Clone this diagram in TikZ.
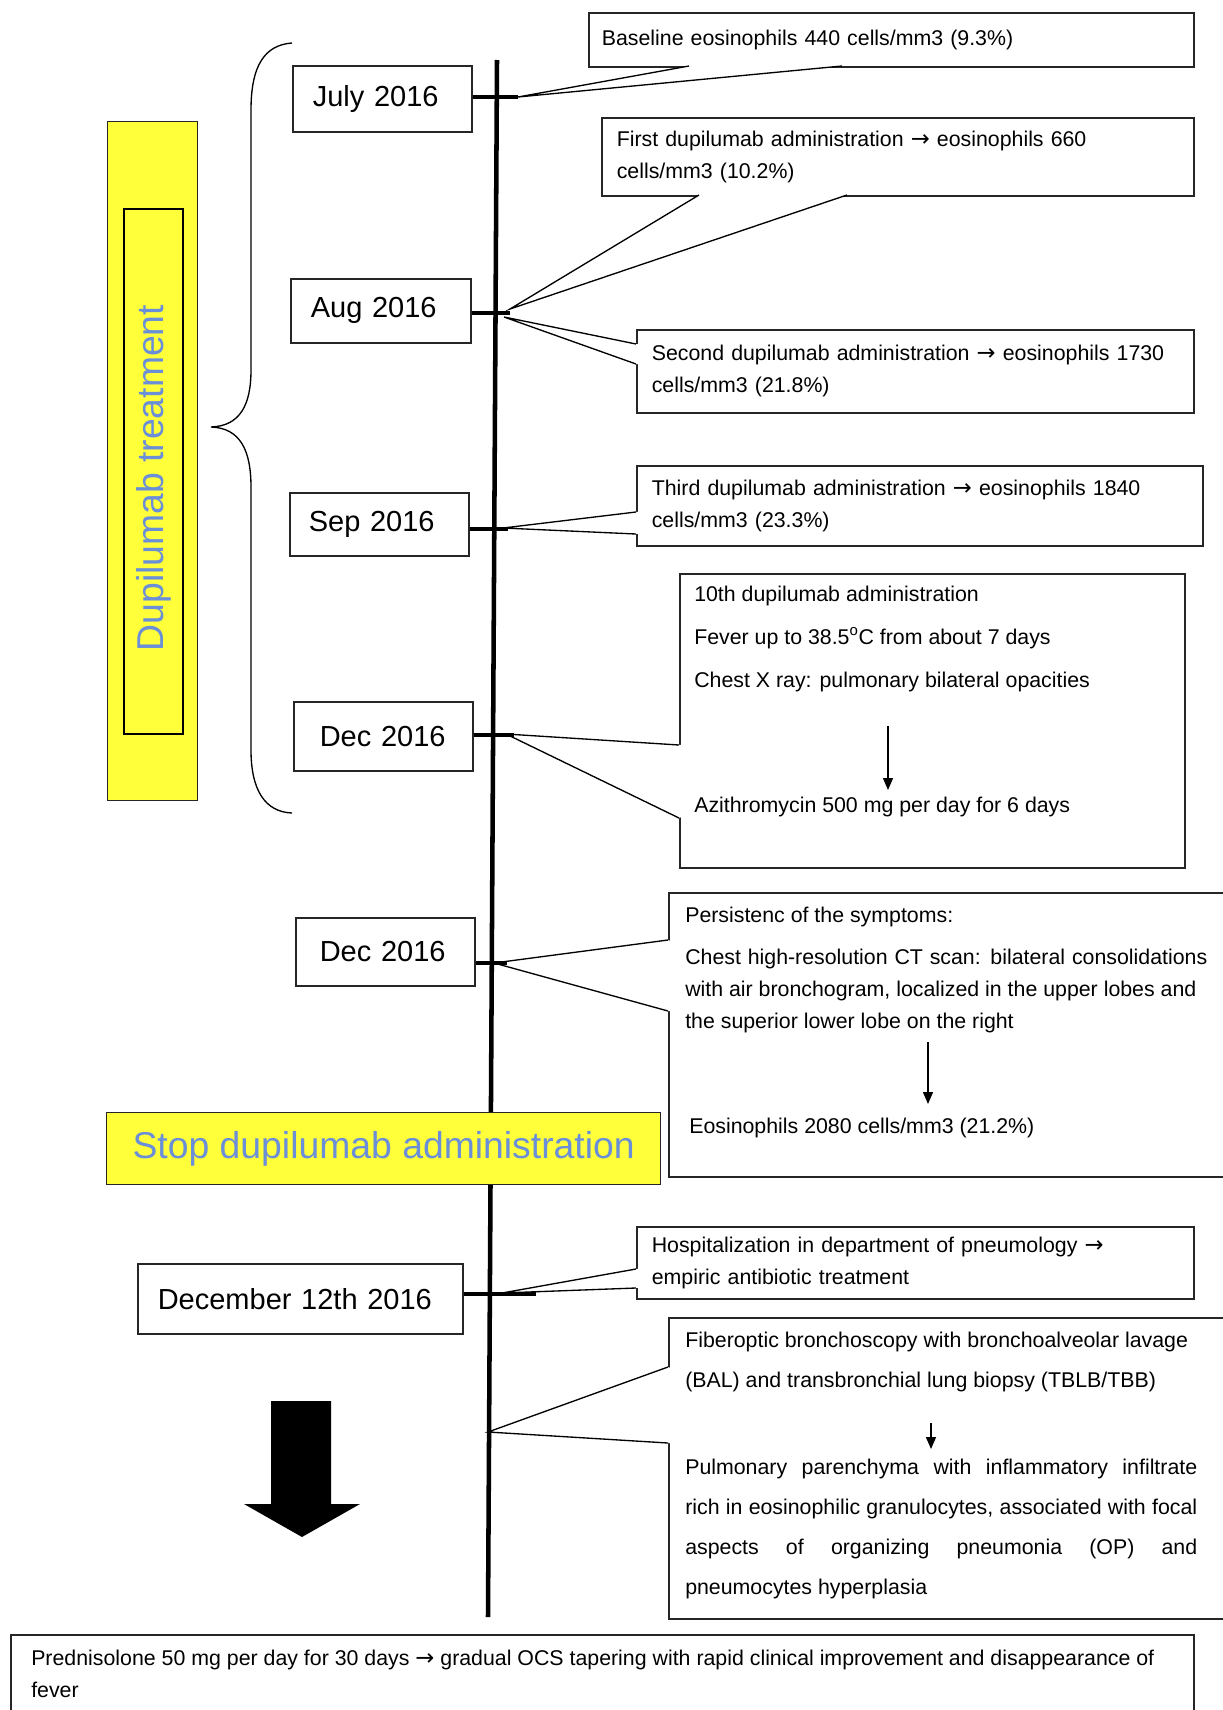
\documentclass[tikz,border=0pt]{standalone}
\usepackage{fontspec}
\setmainfont{Liberation Sans}
\newfontfamily\arrfont{DejaVu Sans}
\usetikzlibrary{arrows.meta,positioning,calc}
\definecolor{dyellow}{HTML}{FFFF3A}
\definecolor{dblue}{HTML}{6A8ED8}
\definecolor{dline}{HTML}{262626}
\newcommand\pxu{0.75pt}
\newcommand\toarr{{\arrfont\fontsize{17}{24}\selectfont →}}

\begin{document}
\begin{tikzpicture}[
  x=0.75pt, y=-0.75pt,
  datebox/.style={draw=dline, line width=1.2pt, anchor=north west, align=left,
                  inner ysep=0pt, font=\fontsize{21.75}{26}\selectfont},
  callbox/.style={draw=dline, line width=1.2pt, anchor=north west, align=left,
                  inner ysep=0pt, font=\fontsize{16}{24}\selectfont},
  boxsize/.style n args={3}{minimum width=#1*\pxu, minimum height=#2*\pxu,
                  inner xsep=#3*\pxu, text width=(#1-2*#3)*\pxu},
  calltxt/.style={inner sep=0pt, anchor=west, align=left,
                  font=\fontsize{16}{24}\selectfont},
  yellowbox/.style={draw=dline, line width=1pt, fill=dyellow, text=dblue,
                    font=\fontsize{28}{32}\selectfont, inner sep=0pt},
  timeline/.style={line width=3.4pt},
  tick/.style={line width=3.4pt},
  ptr/.style={line width=1pt},
  arr/.style={-{Triangle[length=9pt,width=7.5pt]}, line width=1.1pt},
]
\useasboundingbox (0,0) rectangle (1222,1710);

%% Treatment period bar and brace
\node[yellowbox, minimum width=90*\pxu, minimum height=679*\pxu, anchor=north west] (bar) at (107,121) {};
\node[draw=black, line width=1pt, rotate=90, minimum width=525*\pxu, minimum height=59*\pxu,
      inner sep=0pt, text=dblue, font=\fontsize{28}{32}\selectfont] (treat) at (153.5,471.5) {Dupilumab treatment\hspace*{10pt}};
\draw[ptr] (292,43) .. controls (265,45) and (251,65) .. (251,110) -- (251,370)
  .. controls (251,405) and (240,426) .. (211,427) .. controls (240,428) and (251,450) .. (251,487)
  -- (251,750) .. controls (251,790) and (265,812) .. (292,813);

%% Dates
\node[datebox, boxsize={179}{66}{20}]  (jul)   at (292,65)   {July 2016};
\node[datebox, boxsize={180}{64}{20}]  (aug)   at (290,278)  {Aug 2016};
\node[datebox, boxsize={179}{63}{19}]  (sep)   at (289,492)  {Sep 2016};
\node[datebox, boxsize={179}{69}{26}]  (dec)   at (293,701)  {Dec 2016};
\node[datebox, boxsize={179}{68}{24}]  (decb)  at (295,917)  {Dec 2016};
\node[datebox, boxsize={325}{70}{20}]  (dec12) at (137,1263) {December 12th 2016};

%% Events
\node[callbox, boxsize={605}{54}{13}] (base) at (588,12) {Baseline eosinophils 440 cells/mm3 (9.3\%)};
\node[callbox, boxsize={592}{78}{15}] (first) at (601,117) {First dupilumab administration \toarr{} eosinophils 660\\cells/mm3 (10.2\%)};
\node[callbox, boxsize={557}{83}{15}] (second) at (636,329) {Second dupilumab administration \toarr{} eosinophils 1730\\cells/mm3 (21.8\%)};
\node[callbox, boxsize={566}{80}{15}] (third) at (636,465) {Third dupilumab administration \toarr{} eosinophils 1840\\cells/mm3 (23.3\%)};

\node[callbox, boxsize={505}{294}{15}] (tenth) at (679,573) {};
\node[calltxt, font=\fontsize{16}{32.25}\selectfont] (fever) at (694,638.5)
  {10th dupilumab administration\\Fever up to 38.5\textsuperscript{o}C from about 7 days\\Chest X ray: pulmonary bilateral opacities};
\node[calltxt] (azi) at (694,807) {Azithromycin 500 mg per day for 6 days};
\coordinate (fa) at (888,726);
\coordinate (fb) at (888,790);
\draw[arr] (fa) -- (fb);

\node[callbox, boxsize={558}{284}{17}] (persist) at (668,892) {};
\node[calltxt] (persttl) at (685,917) {Persistenc of the symptoms:};
\node[calltxt] (ctscan) at (685,991)
  {\makebox[391.5pt][s]{Chest high-resolution CT scan: bilateral consolidations}\\with air bronchogram, localized in the upper lobes and\\the superior lower lobe on the right};
\node[calltxt] (eos) at (689,1128) {Eosinophils 2080 cells/mm3 (21.2\%)};
\coordinate (ca) at (928,1042);
\coordinate (cb) at (928,1104);
\draw[arr] (ca) -- (cb);

\node[callbox, boxsize={557}{72}{15}] (hospit) at (636,1226) {Hospitalization in department of pneumology \toarr\\empiric antibiotic treatment};

\node[callbox, boxsize={558}{301}{17}] (bronch) at (668,1317) {};
\node[calltxt, font=\fontsize{16}{30}\selectfont] (bal) at (685,1362)
  {Fiberoptic bronchoscopy with bronchoalveolar lavage\\(BAL) and transbronchial lung biopsy (TBLB/TBB)};
\node[calltxt, font=\fontsize{16}{30}\selectfont] (histo) at (685,1528.5)
  {\makebox[384pt][s]{Pulmonary parenchyma with inflammatory infiltrate}\\\makebox[384pt][s]{rich in eosinophilic granulocytes, associated with focal}\\\makebox[384pt][s]{aspects of organizing pneumonia (OP) and}\\pneumocytes hyperplasia};
\coordinate (ba) at (931,1423);
\coordinate (bb) at (931,1449);
\draw[arr] (ba) -- (bb);

%% Callout pointers
\coordinate (base-a) at (689,66);     \coordinate (base-b) at (842,66);     \coordinate (base-t) at (518,97);
\coordinate (first-a) at (699,195);   \coordinate (first-b) at (847,195);   \coordinate (first-t) at (510,309);
\coordinate (second-a) at (636,344);  \coordinate (second-b) at (636,364);  \coordinate (second-t) at (504,317);
\coordinate (third-a) at (636,512);   \coordinate (third-b) at (636,534);   \coordinate (third-t) at (503,528);
\coordinate (tenth-a) at (679,745);   \coordinate (tenth-b) at (679,818);   \coordinate (tenth-t) at (506,734);
\coordinate (persist-a) at (668,940); \coordinate (persist-b) at (668,1011); \coordinate (persist-t) at (494,963);
\coordinate (hospit-a) at (636,1269); \coordinate (hospit-b) at (636,1288); \coordinate (hospit-t) at (502,1293);
\coordinate (bronch-a) at (668,1367); \coordinate (bronch-b) at (668,1443); \coordinate (bronch-t) at (488,1432);
\foreach \bx in {base,first,second,third,tenth,persist,hospit,bronch} {
  \fill[white] (\bx-a) -- (\bx-t) -- (\bx-b) -- ($(\bx-b)!2.5pt!(\bx.center)$) -- ($(\bx-a)!2.5pt!(\bx.center)$) -- cycle;
  \draw[ptr] (\bx-a) -- (\bx-t) -- (\bx-b);
}

%% Timeline and ticks
\coordinate (ttop) at (497,60);
\coordinate (tbot) at (488,1617);
\draw[timeline] (ttop) -- (tbot);
\coordinate (jul-k) at (518,97);
\coordinate (aug-k) at (510,313);
\coordinate (sep-k) at (508,529);
\coordinate (dec-k) at (514,735);
\coordinate (decb-k) at (507,963);
\coordinate (dec12-k) at (536,1294);
\foreach \d in {jul,aug,sep,dec,decb,dec12}
  \draw[tick] (\d.east |- \d-k) -- (\d-k);

%% Stop, outcome
\node[yellowbox, minimum width=554*\pxu, minimum height=72*\pxu, anchor=north west] (stop) at (106,1112) {Stop dupilumab administration};
\fill (271,1401) -- (331,1401) -- (331,1504) -- (360,1504) -- (302,1537) -- (244,1504) -- (271,1504) -- cycle;
\node[callbox, boxsize={1183}{80}{21}] (pred) at (10,1634) {};
\node[calltxt] (predtx) at (31,1674) {Prednisolone 50 mg per day for 30 days \toarr{} gradual OCS tapering with rapid clinical improvement and disappearance of\\fever};

\end{tikzpicture}
\end{document}
